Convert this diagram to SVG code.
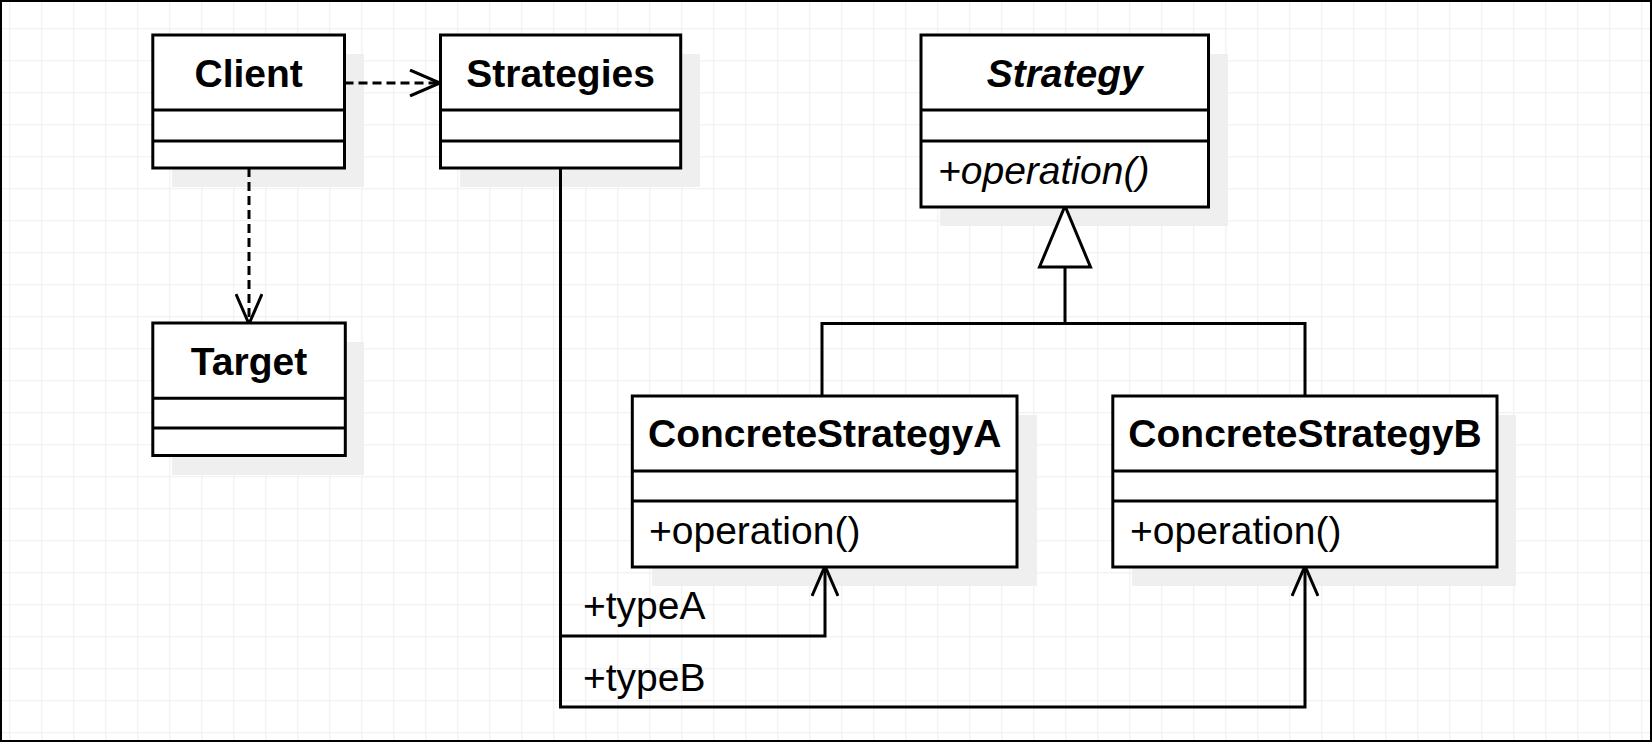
<svg xmlns="http://www.w3.org/2000/svg" width="1652" height="742" viewBox="0 0 1652 742">
<style>
.box{fill:#ffffff;stroke:#000000;stroke-width:3}
.sep{stroke:#000000;stroke-width:3}
.shadow{fill:#efefef}
.title{font-family:"Liberation Sans",Arial,sans-serif;font-size:39px;font-weight:bold;text-anchor:middle;fill:#000}
.member{font-family:"Liberation Sans",Arial,sans-serif;font-size:39px;fill:#000}
.conn{fill:none;stroke:#000000;stroke-width:3}
.dash{stroke-dasharray:9 5}
</style>
<defs>
<pattern id="grid" width="32" height="32" patternUnits="userSpaceOnUse" x="9.3" y="28.3">
<path d="M0 0.5 H32 M0.5 0 V32" fill="none" stroke="#eeeeee" stroke-width="1"/>
</pattern>
<marker id="open" viewBox="0 0 33 28" markerWidth="33" markerHeight="28" refX="31" refY="14" orient="auto" markerUnits="userSpaceOnUse">
<path d="M1 1 L31 14 L1 27" fill="none" stroke="#000" stroke-width="3"/>
</marker>
<marker id="tri" viewBox="0 0 66 56" markerWidth="66" markerHeight="56" refX="63" refY="28" orient="auto" markerUnits="userSpaceOnUse">
<path d="M2 2.5 L63 28 L2 53.5 Z" fill="#fff" stroke="#000" stroke-width="3"/>
</marker>
</defs>
<rect x="0" y="0" width="1652" height="742" fill="#ffffff"/>
<rect x="0" y="0" width="1652" height="742" fill="url(#grid)"/>
<rect x="1" y="1" width="1650" height="740" fill="none" stroke="#000" stroke-width="2"/>

<g id="shadows">
<rect class="shadow" x="172" y="54" width="192" height="133"/>
<rect class="shadow" x="460" y="54" width="240" height="133"/>
<rect class="shadow" x="940" y="54" width="288" height="172"/>
<rect class="shadow" x="172" y="342" width="192" height="133"/>
<rect class="shadow" x="652" y="415" width="385" height="171"/>
<rect class="shadow" x="1132" y="415" width="384" height="171"/>
</g>

<g id="connectors">
<path class="conn dash" d="M344.5 83 H440" marker-end="url(#open)"/>
<path class="conn dash" d="M249 168 V324" marker-end="url(#open)"/>
<path class="conn" d="M560.5 168 V636 H825 V566" marker-end="url(#open)"/>
<path class="conn" d="M560.5 636 V707 H1305 V566" marker-end="url(#open)"/>
<path class="conn" d="M822 396 V323.5 H1305 V396"/>
<path class="conn" d="M1065 323.5 V206" marker-end="url(#tri)"/>
<text class="member" x="583" y="619">+typeA</text>
<text class="member" x="583" y="691">+typeB</text>
</g>

<g id="Client">
<rect class="box" x="152.8" y="35" width="191.7" height="133"/>
<line class="sep" x1="152.8" y1="110" x2="344.5" y2="110"/>
<line class="sep" x1="152.8" y1="141" x2="344.5" y2="141"/>
<text class="title" x="248.7" y="87">Client</text>
</g>

<g id="Strategies">
<rect class="box" x="440.5" y="35" width="240.2" height="133"/>
<line class="sep" x1="440.5" y1="110" x2="680.7" y2="110"/>
<line class="sep" x1="440.5" y1="141" x2="680.7" y2="141"/>
<text class="title" x="560.6" y="87">Strategies</text>
</g>

<g id="Strategy">
<rect class="box" x="921" y="35" width="287.5" height="172"/>
<line class="sep" x1="921" y1="110" x2="1208.5" y2="110"/>
<line class="sep" x1="921" y1="141" x2="1208.5" y2="141"/>
<text class="title" x="1064.7" y="87" font-style="italic">Strategy</text>
<text class="member" x="938" y="184" font-style="italic">+operation()</text>
</g>

<g id="Target">
<rect class="box" x="152.8" y="323" width="192.5" height="132.5"/>
<line class="sep" x1="152.8" y1="398.3" x2="345.3" y2="398.3"/>
<line class="sep" x1="152.8" y1="428" x2="345.3" y2="428"/>
<text class="title" x="249" y="374.5">Target</text>
</g>

<g id="ConcreteStrategyA">
<rect class="box" x="632.3" y="396" width="384.7" height="171"/>
<line class="sep" x1="632.3" y1="471" x2="1017" y2="471"/>
<line class="sep" x1="632.3" y1="501" x2="1017" y2="501"/>
<text class="title" x="824.7" y="446.7">ConcreteStrategyA</text>
<text class="member" x="649" y="544">+operation()</text>
</g>

<g id="ConcreteStrategyB">
<rect class="box" x="1112.8" y="396" width="384.2" height="171"/>
<line class="sep" x1="1112.8" y1="471" x2="1497" y2="471"/>
<line class="sep" x1="1112.8" y1="501" x2="1497" y2="501"/>
<text class="title" x="1305" y="446.7">ConcreteStrategyB</text>
<text class="member" x="1130" y="544">+operation()</text>
</g>
</svg>
